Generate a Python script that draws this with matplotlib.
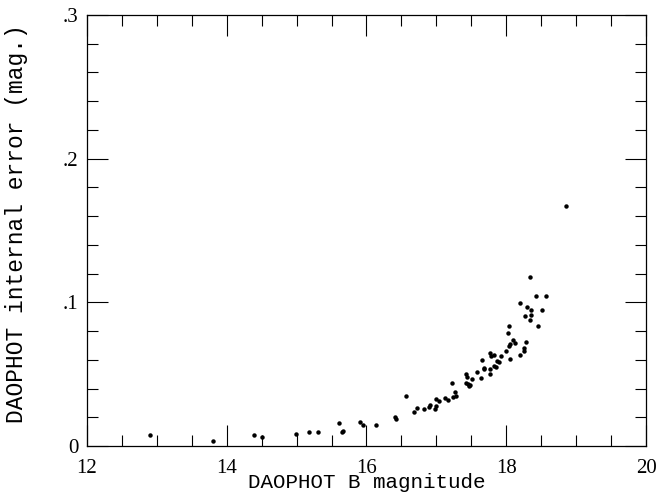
import matplotlib.pyplot as plt
from matplotlib.ticker import MultipleLocator, FuncFormatter

# B magnitude vs. DAOPHOT internal error
bmag = [12.90, 13.81, 14.39, 14.50, 14.99, 15.18, 15.30, 15.61, 15.67, 15.65,
        15.91, 15.95, 16.13, 16.42, 16.41, 16.56, 16.68, 16.72, 16.82, 16.89,
        16.91, 16.98, 17.00, 17.00, 17.04, 17.13, 17.16, 17.22, 17.24, 17.27,
        17.28, 17.42, 17.44, 17.43, 17.45, 17.47, 17.48, 17.51, 17.58, 17.64,
        17.66, 17.68, 17.68, 17.77, 17.77, 17.77, 17.78, 17.83, 17.83, 17.85,
        17.87, 17.89, 17.92, 17.99, 18.03, 18.04, 18.04, 18.05, 18.06, 18.09,
        18.12, 18.19, 18.19, 18.25, 18.25, 18.28, 18.27, 18.29, 18.35, 18.35,
        18.34, 18.34, 18.42, 18.45, 18.51, 18.57, 18.85]
err = [0.0075, 0.0035, 0.0077, 0.0065, 0.0086, 0.0095, 0.0095, 0.0157, 0.0107, 0.0097,
       0.0169, 0.0146, 0.0148, 0.0190, 0.0200, 0.0348, 0.0239, 0.0262, 0.0257, 0.0269,
       0.0283, 0.0260, 0.0276, 0.0327, 0.0311, 0.0332, 0.0320, 0.0438, 0.0341, 0.0376,
       0.0348, 0.0499, 0.0482, 0.0438, 0.0429, 0.0418, 0.0422, 0.0466, 0.0517, 0.0475,
       0.0596, 0.0543, 0.0534, 0.0536, 0.0499, 0.0645, 0.0626, 0.0635, 0.0557, 0.0548,
       0.0592, 0.0585, 0.0626, 0.0663, 0.0786, 0.0837, 0.0694, 0.0708, 0.0605, 0.0738,
       0.0719, 0.0997, 0.0635, 0.0659, 0.0684, 0.0726, 0.0907, 0.0969, 0.0946, 0.0914,
       0.0875, 0.1178, 0.1042, 0.0837, 0.0949, 0.1042, 0.1670]

fig = plt.figure(figsize=(6.6, 4.98), dpi=100)
ax = fig.add_axes([0.1318, 0.1044, 0.847, 0.8655])

ax.plot(bmag, err, 'o', color='black', markersize=3.2, markeredgewidth=0)

ax.set_xlim(12, 20)
ax.set_ylim(0, 0.3)
ax.xaxis.set_major_locator(MultipleLocator(2))
ax.xaxis.set_minor_locator(MultipleLocator(0.5))
ax.yaxis.set_major_locator(MultipleLocator(0.1))
ax.yaxis.set_minor_locator(MultipleLocator(0.02))

def yfmt(v, pos):
    if abs(v) < 1e-9:
        return '0'
    return ('%.1f' % v).lstrip('0')

ax.yaxis.set_major_formatter(FuncFormatter(yfmt))

ax.tick_params(which='both', direction='in', top=True, right=True, width=0.8, color='black')
ax.tick_params(which='major', length=15)
ax.tick_params(which='minor', length=8)
ax.tick_params(axis='x', which='major', pad=9)
ax.tick_params(axis='y', which='major', pad=6)
for lbl in ax.get_xticklabels() + ax.get_yticklabels():
    lbl.set_fontfamily('Liberation Serif')
    lbl.set_fontsize(15)

for sp in ax.spines.values():
    sp.set_linewidth(0.9)

ax.set_xlabel('DAOPHOT B magnitude', family='Liberation Mono', fontsize=15, va='baseline')
ax.xaxis.set_label_coords(0.5, -0.098)
ax.set_ylabel('DAOPHOT internal error (mag.)', family='Liberation Mono', fontsize=16.5)
ax.yaxis.set_label_coords(-0.106, 0.515)

fig.savefig('out.png', dpi=100)
